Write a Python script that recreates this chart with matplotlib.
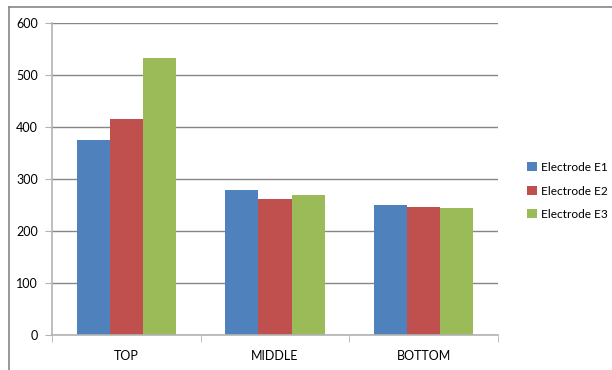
import matplotlib.pyplot as plt
import numpy as np
from matplotlib.lines import Line2D
from matplotlib.patches import Patch

categories = ['TOP', 'MIDDLE', 'BOTTOM']
series_names = ['Electrode E1', 'Electrode E2', 'Electrode E3']
e1 = [375, 279, 250]
e2 = [415, 262, 246]
e3 = [533, 269, 244]
colors = ['#4f81bd', '#c0504d', '#9bbb59']

plt.rcParams['font.family'] = ['Lato', 'DejaVu Sans']

fig = plt.figure(figsize=(6.12, 3.70), dpi=100)
ax = fig.add_axes([52 / 612, 1 - 335 / 370, 446 / 612, 312 / 370])

x = np.arange(len(categories))
w = 0.222
for i, vals in enumerate([e1, e2, e3]):
    ax.bar(x + (i - 1) * w, vals, width=w, color=colors[i], zorder=3)

ax.set_xlim(-0.5, 2.5)
ax.set_ylim(0, 600)
ax.set_yticks(range(0, 601, 100))
ax.grid(axis='y', color='#868686', linewidth=1, zorder=0)
for s in ['top', 'right']:
    ax.spines[s].set_visible(False)
for s in ['left', 'bottom']:
    ax.spines[s].set_color('#b3b3b3')
    ax.spines[s].set_linewidth(1.2)
    ax.spines[s].set_zorder(4)

# category labels centred, tick marks on the boundaries
ax.set_xticks(x)
ax.set_xticklabels(categories)
ax.set_xticks([-0.5, 0.5, 1.5, 2.5], minor=True)
ax.tick_params(axis='x', which='major', length=0, pad=11, labelsize=9)
ax.tick_params(axis='x', which='minor', length=5, color='#b3b3b3', direction='out')
ax.tick_params(axis='y', length=5, color='#b3b3b3', pad=5, labelsize=9)

handles = [Patch(facecolor=c) for c in colors]
fig.legend(handles, series_names, loc='upper left', bbox_to_anchor=(521 / 612, 1 - 156 / 370),
           frameon=False, fontsize=8.6, handlelength=0.8, handleheight=0.8,
           handletextpad=0.4, labelspacing=1.05, borderpad=0)

# outer chart frame (top and left edges)
fig.add_artist(Line2D([9 / 612, 9 / 612], [0, 1 - 7 / 370], color='#868686', lw=1.2))
fig.add_artist(Line2D([9 / 612, 1], [1 - 7 / 370, 1 - 7 / 370], color='#868686', lw=1.2))

fig.savefig('out.png', dpi=100)
